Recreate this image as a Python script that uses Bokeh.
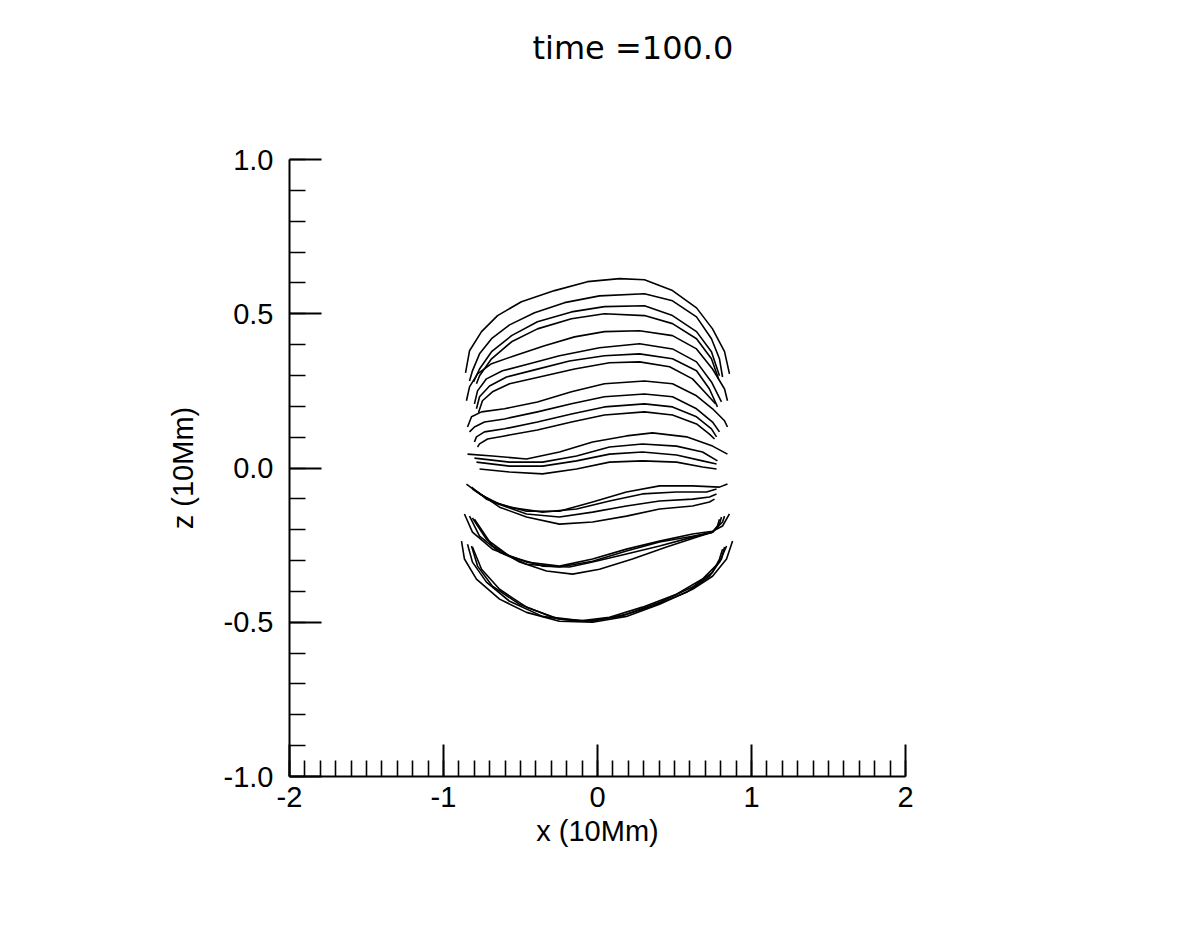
from bokeh.plotting import figure
from bokeh.models import Range1d, SingleIntervalTicker, PrintfTickFormatter, Title
from bokeh.embed import file_html
from bokeh.resources import INLINE

# ---- field lines (x, z in 10 Mm) ----
l1a_x = [-0.857, -0.831, -0.753, -0.649, -0.494, -0.279, -0.065, 0.143, 0.305, 0.487, 0.643, 0.747, 0.825, 0.857]
l1a_z = [0.308, 0.380, 0.442, 0.494, 0.539, 0.575, 0.604, 0.614, 0.610, 0.575, 0.519, 0.451, 0.377, 0.305]
l1b_x = [-0.831, -0.812, -0.766, -0.688, -0.571, -0.409, -0.214, 0.013, 0.305, 0.487, 0.643, 0.740, 0.792, 0.812]
l1b_z = [0.282, 0.315, 0.370, 0.419, 0.464, 0.503, 0.536, 0.558, 0.565, 0.542, 0.490, 0.419, 0.354, 0.295]
l1c_x = [-0.805, -0.766, -0.688, -0.558, -0.390, -0.169, 0.045, 0.305, 0.487, 0.643, 0.740, 0.792]
l1c_z = [0.279, 0.321, 0.377, 0.429, 0.474, 0.506, 0.523, 0.526, 0.494, 0.442, 0.377, 0.299]
l1d_x = [-0.786, -0.766, -0.688, -0.558, -0.390, -0.169, 0.045, 0.305, 0.487, 0.643, 0.740, 0.786]
l1d_z = [0.273, 0.299, 0.354, 0.409, 0.451, 0.484, 0.500, 0.494, 0.468, 0.419, 0.354, 0.289]

l2a_x = [-0.851, -0.831, -0.779, -0.688, -0.539, -0.344, -0.149, 0.045, 0.273, 0.487, 0.643, 0.747, 0.825, 0.844]
l2a_z = [0.218, 0.263, 0.305, 0.338, 0.364, 0.396, 0.425, 0.442, 0.445, 0.429, 0.386, 0.321, 0.256, 0.218]
l2b_x = [-0.799, -0.779, -0.721, -0.617, -0.442, -0.247, 0.013, 0.273, 0.487, 0.643, 0.740, 0.805]
l2b_z = [0.208, 0.250, 0.289, 0.315, 0.338, 0.364, 0.390, 0.403, 0.386, 0.344, 0.279, 0.214]
l2c_x = [-0.786, -0.766, -0.701, -0.591, -0.409, -0.182, 0.045, 0.273, 0.487, 0.643, 0.727, 0.779]
l2c_z = [0.192, 0.231, 0.266, 0.295, 0.318, 0.347, 0.364, 0.370, 0.354, 0.315, 0.256, 0.198]
l2d_x = [-0.773, -0.747, -0.682, -0.571, -0.377, -0.149, 0.078, 0.273, 0.468, 0.617, 0.708, 0.766]
l2d_z = [0.179, 0.218, 0.247, 0.273, 0.295, 0.321, 0.341, 0.344, 0.328, 0.289, 0.240, 0.208]

l3a_x = [-0.844, -0.818, -0.753, -0.604, -0.390, -0.169, 0.045, 0.305, 0.487, 0.643, 0.747, 0.825, 0.844]
l3a_z = [0.133, 0.166, 0.182, 0.192, 0.214, 0.247, 0.273, 0.282, 0.273, 0.234, 0.192, 0.153, 0.133]
l3b_x = [-0.831, -0.799, -0.734, -0.604, -0.390, -0.169, 0.045, 0.305, 0.487, 0.643, 0.747, 0.792]
l3b_z = [0.117, 0.133, 0.149, 0.159, 0.182, 0.208, 0.231, 0.240, 0.231, 0.192, 0.149, 0.117]
l3c_x = [-0.799, -0.786, -0.734, -0.604, -0.390, -0.169, 0.045, 0.305, 0.487, 0.643, 0.740, 0.773]
l3c_z = [0.084, 0.101, 0.117, 0.127, 0.149, 0.175, 0.198, 0.208, 0.198, 0.166, 0.127, 0.101]
l3d_x = [-0.779, -0.766, -0.714, -0.604, -0.390, -0.169, 0.045, 0.305, 0.487, 0.643, 0.727, 0.760]
l3d_z = [0.068, 0.078, 0.094, 0.104, 0.123, 0.149, 0.172, 0.182, 0.172, 0.143, 0.110, 0.094]

l4a_x = [-0.844, -0.682, -0.461, -0.247, -0.032, 0.188, 0.357, 0.578, 0.747, 0.844]
l4a_z = [0.045, 0.039, 0.029, 0.052, 0.084, 0.104, 0.114, 0.101, 0.071, 0.045]
l4b_x = [-0.799, -0.571, -0.357, -0.136, 0.078, 0.292, 0.513, 0.682, 0.779]
l4b_z = [0.032, 0.019, 0.019, 0.039, 0.068, 0.078, 0.071, 0.052, 0.023]
l4c_x = [-0.786, -0.571, -0.357, -0.136, 0.078, 0.292, 0.513, 0.682, 0.773]
l4c_z = [0.019, 0.006, 0.006, 0.023, 0.045, 0.052, 0.042, 0.023, 0.013]
l4d_x = [-0.766, -0.571, -0.357, -0.136, 0.078, 0.292, 0.513, 0.682, 0.773]
l4d_z = [-0.003, -0.013, -0.019, -0.003, 0.019, 0.023, 0.019, 0.003, -0.003]

l5a_x = [-0.851, -0.766, -0.636, -0.461, -0.247, -0.032, 0.188, 0.403, 0.617, 0.792, 0.844]
l5a_z = [-0.052, -0.084, -0.117, -0.140, -0.140, -0.110, -0.078, -0.058, -0.058, -0.062, -0.052]
l5b_x = [-0.818, -0.721, -0.571, -0.357, -0.136, 0.078, 0.292, 0.513, 0.708, 0.773]
l5b_z = [-0.062, -0.101, -0.127, -0.143, -0.133, -0.107, -0.084, -0.078, -0.078, -0.068]
l5c_x = [-0.812, -0.682, -0.461, -0.247, -0.032, 0.188, 0.403, 0.617, 0.727, 0.773]
l5c_z = [-0.068, -0.110, -0.149, -0.159, -0.143, -0.123, -0.107, -0.101, -0.094, -0.084]
l5d_x = [-0.786, -0.636, -0.461, -0.247, -0.032, 0.188, 0.403, 0.617, 0.727, 0.760]
l5d_z = [-0.075, -0.127, -0.159, -0.182, -0.175, -0.156, -0.133, -0.123, -0.110, -0.101]

l6a_x = [-0.864, -0.812, -0.682, -0.461, -0.247, -0.032, 0.188, 0.403, 0.617, 0.747, 0.812, 0.857]
l6a_z = [-0.149, -0.208, -0.263, -0.305, -0.318, -0.295, -0.263, -0.237, -0.214, -0.205, -0.188, -0.149]
l6b_x = [-0.831, -0.766, -0.636, -0.461, -0.247, -0.032, 0.188, 0.403, 0.617, 0.747, 0.812, 0.825]
l6b_z = [-0.156, -0.221, -0.273, -0.312, -0.321, -0.302, -0.269, -0.240, -0.221, -0.208, -0.175, -0.156]
l6c_x = [-0.812, -0.721, -0.571, -0.357, -0.182, -0.032, 0.188, 0.403, 0.617, 0.747, 0.792, 0.805]
l6c_z = [-0.162, -0.231, -0.286, -0.318, -0.321, -0.305, -0.279, -0.253, -0.224, -0.208, -0.182, -0.159]
l6d_x = [-0.799, -0.682, -0.506, -0.331, -0.162, 0.013, 0.227, 0.448, 0.662, 0.747, 0.779, 0.792]
l6d_z = [-0.166, -0.253, -0.305, -0.334, -0.344, -0.328, -0.295, -0.256, -0.221, -0.208, -0.188, -0.166]

l7a_x = [-0.883, -0.864, -0.786, -0.636, -0.461, -0.247, -0.032, 0.188, 0.403, 0.617, 0.747, 0.838, 0.877]
l7a_z = [-0.237, -0.295, -0.360, -0.425, -0.468, -0.497, -0.500, -0.481, -0.442, -0.393, -0.351, -0.295, -0.237]
l7b_x = [-0.844, -0.812, -0.721, -0.571, -0.357, -0.136, 0.078, 0.292, 0.513, 0.682, 0.792, 0.838]
l7b_z = [-0.247, -0.305, -0.370, -0.432, -0.481, -0.497, -0.484, -0.451, -0.409, -0.360, -0.305, -0.253]
l7c_x = [-0.818, -0.779, -0.682, -0.506, -0.292, -0.071, 0.143, 0.357, 0.578, 0.727, 0.805, 0.825]
l7c_z = [-0.253, -0.318, -0.383, -0.442, -0.484, -0.497, -0.481, -0.448, -0.403, -0.351, -0.295, -0.256]
l7d_x = [-0.812, -0.753, -0.636, -0.461, -0.247, -0.032, 0.188, 0.403, 0.617, 0.747, 0.792, 0.812]
l7d_z = [-0.256, -0.328, -0.393, -0.451, -0.490, -0.497, -0.474, -0.435, -0.386, -0.338, -0.295, -0.263]

xs = [l1a_x, l1b_x, l1c_x, l1d_x, l2a_x, l2b_x, l2c_x, l2d_x, l3a_x, l3b_x, l3c_x, l3d_x,
      l4a_x, l4b_x, l4c_x, l4d_x, l5a_x, l5b_x, l5c_x, l5d_x, l6a_x, l6b_x, l6c_x, l6d_x,
      l7a_x, l7b_x, l7c_x, l7d_x]
zs = [l1a_z, l1b_z, l1c_z, l1d_z, l2a_z, l2b_z, l2c_z, l2d_z, l3a_z, l3b_z, l3c_z, l3d_z,
      l4a_z, l4b_z, l4c_z, l4d_z, l5a_z, l5b_z, l5c_z, l5d_z, l6a_z, l6b_z, l6c_z, l6d_z,
      l7a_z, l7b_z, l7c_z, l7d_z]

title_text = "time =100.0"
x_label = "x (10Mm)"
z_label = "z (10Mm)"

FONT = "Liberation Sans"

p = figure(frame_width=616, frame_height=617,
           min_border_left=289, min_border_right=275,
           min_border_top=159, min_border_bottom=147,
           x_range=Range1d(-2, 2), y_range=Range1d(-1, 1),
           output_backend="svg", toolbar_location=None)
p.outline_line_color = None
p.grid.visible = False
p.background_fill_color = "white"
p.border_fill_color = "white"

p.multi_line(xs, zs, line_color="black", line_width=1.6, line_join="round")

for ax in (p.xaxis[0], p.yaxis[0]):
    ax.axis_line_width = 2
    ax.axis_line_color = "black"
    ax.major_tick_line_width = 2
    ax.minor_tick_line_width = 1.6
    ax.major_tick_in = 32
    ax.major_tick_out = 0
    ax.minor_tick_in = 16
    ax.minor_tick_out = 0
    ax.major_label_text_font = FONT
    ax.major_label_text_font_size = "29px"
    ax.major_label_text_color = "black"
    ax.axis_label_text_font = FONT
    ax.axis_label_text_font_size = "29px"
    ax.axis_label_text_font_style = "normal"
    ax.axis_label_text_color = "black"

p.xaxis[0].ticker = SingleIntervalTicker(interval=1, num_minor_ticks=10)
p.yaxis[0].ticker = SingleIntervalTicker(interval=0.5, num_minor_ticks=5)
p.xaxis[0].formatter = PrintfTickFormatter(format="%d")
p.yaxis[0].formatter = PrintfTickFormatter(format="%.1f")
p.xaxis[0].major_label_standoff = 10
p.yaxis[0].major_label_standoff = 16
p.xaxis[0].axis_label = x_label
p.yaxis[0].axis_label = z_label
p.xaxis[0].axis_label_standoff = 5
p.yaxis[0].axis_label_standoff = 22

# spacer title nearest the frame pushes the real title up into the top margin
p.add_layout(Title(text=" ", standoff=48, text_font="DejaVu Sans",
                   text_font_size="32px"), "above")
p.add_layout(Title(text=title_text, align="left", offset=243, standoff=10,
                   vertical_align="bottom", text_font="DejaVu Sans",
                   text_font_size="32px", text_font_style="normal",
                   text_color="black"), "above")

open("out.html", "w").write(file_html(p, INLINE))
